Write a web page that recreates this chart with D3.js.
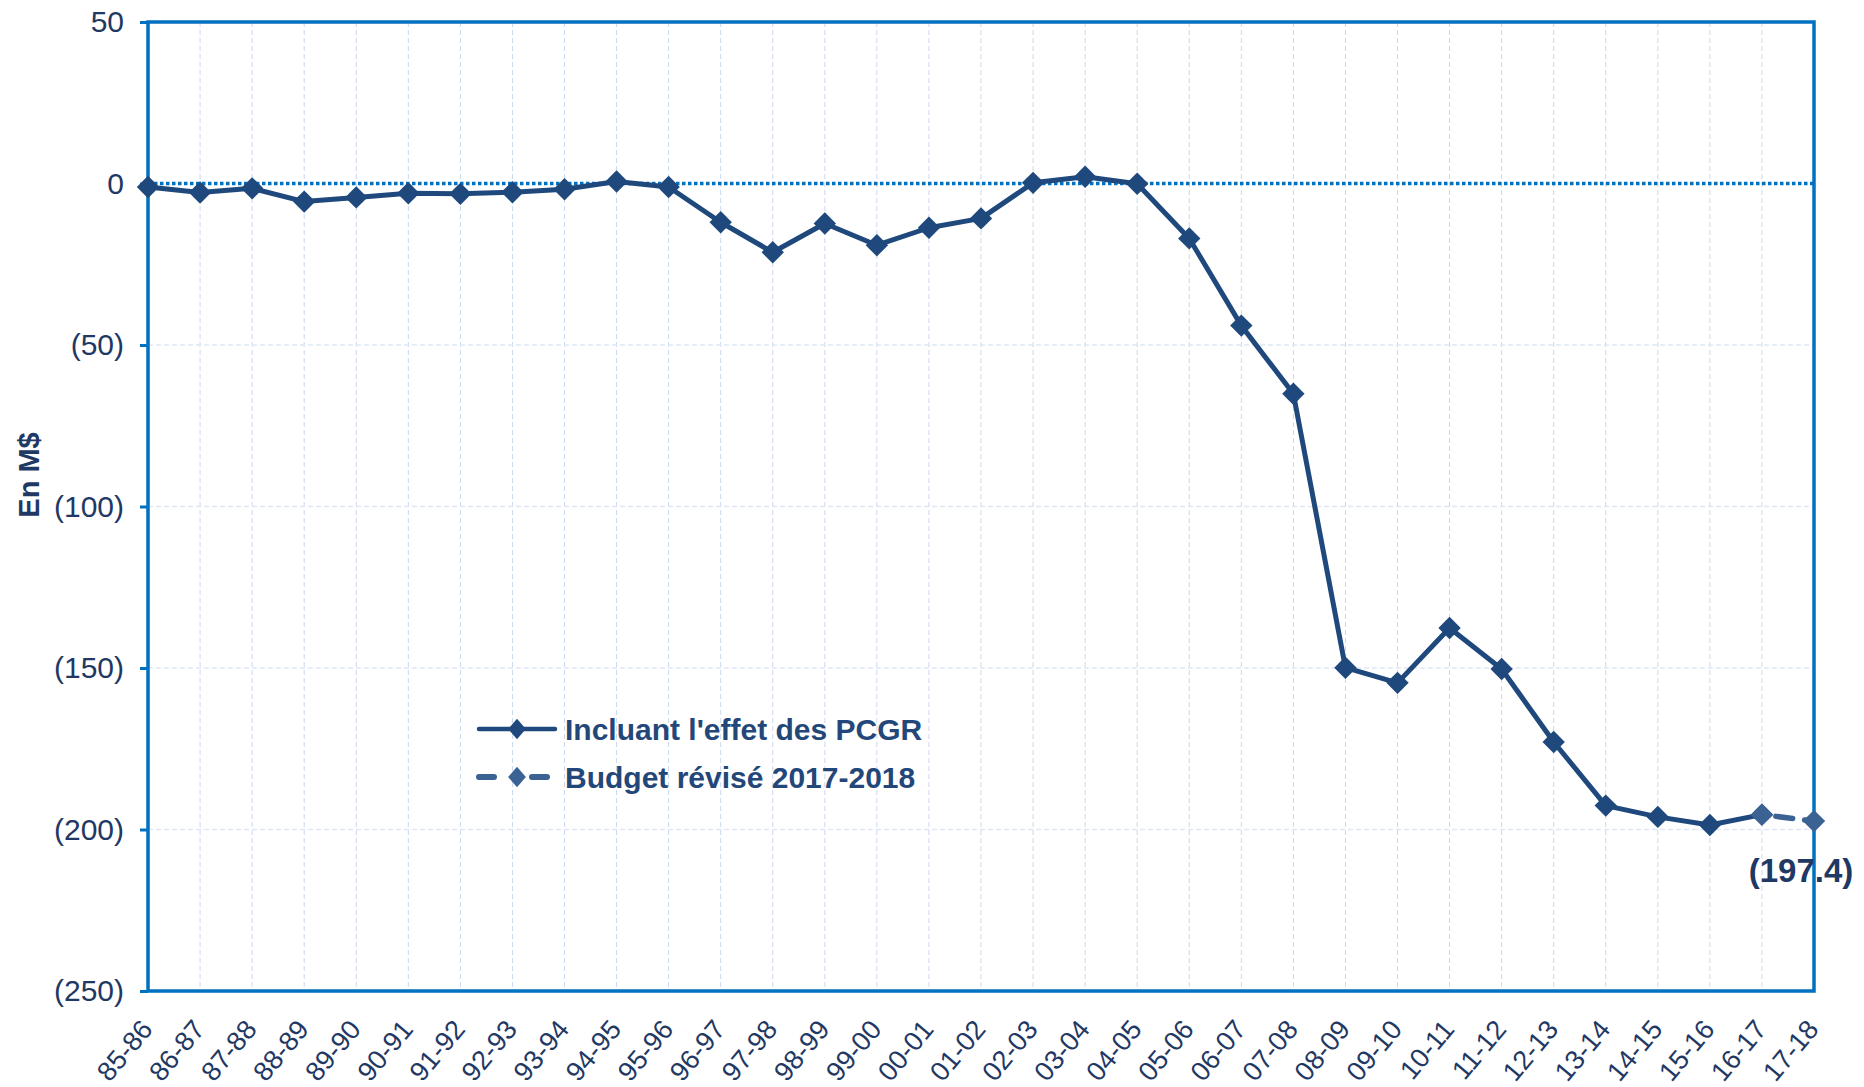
<!DOCTYPE html>
<html>
<head>
<meta charset="utf-8">
<script src="https://cdnjs.cloudflare.com/ajax/libs/d3/7.8.5/d3.min.js"></script>
<style>
	html, body { margin: 0; padding: 0; background: #fff; }
	svg { display: block; font-family: 'Liberation Sans', Arial, sans-serif; }
</style>
</head>
<body>
<svg id="chart" width="1864" height="1087"></svg>
<script>
// data
var categories = [
	'85-86', '86-87', '87-88', '88-89', '89-90', '90-91', '91-92', '92-93', '93-94', '94-95',
	'95-96', '96-97', '97-98', '98-99', '99-00', '00-01', '01-02', '02-03', '03-04', '04-05',
	'05-06', '06-07', '07-08', '08-09', '09-10', '10-11', '11-12', '12-13', '13-14', '14-15',
	'15-16', '16-17', '17-18'
];

// incluant l'effet des PCGR, 85-86 through 16-17
var pcgrValues = [
	-1.1, -2.8, -1.5, -5.6, -4.3, -3.0, -3.2, -2.7, -1.8, 0.6,
	-1.1, -12.0, -21.3, -12.4, -19.1, -13.7, -10.8, 0.2, 2.1, -0.1,
	-17.0, -44.0, -65.1, -149.9, -154.6, -137.6, -150.3, -172.9, -192.6, -196.1,
	-198.6, -195.4
];

// budget révisé 2017-2018
var budgetCategories = ['16-17', '17-18'];
var budgetValues = [-195.4, -197.4];

var yTicks = [50, 0, -50, -100, -150, -200, -250];

var seriesNames = ["Incluant l'effet des PCGR", 'Budget révisé 2017-2018'];
var endLabel = '(197.4)';

(function() {
	'use strict';

	var navy = '#1f497d';
	var navyLight = '#3a6394';
	var axisBlue = '#0070c0';
	var textColor = '#1f3864';

	var svg = d3.select('#chart');

	var x = d3.scalePoint()
		.domain(categories)
		.range([148, 1814])
		.padding(0);

	var y = d3.scaleLinear()
		.domain([-250, 50])
		.range([991, 22]);

	function fmt(v) {
		return v < 0 ? '(' + Math.abs(v) + ')' : String(v);
	}

	// gridlines
	svg.append('g')
		.selectAll('line')
		.data(categories.slice(1, -1))
		.enter().append('line')
		.attr('x1', function(d) { return x(d); })
		.attr('x2', function(d) { return x(d); })
		.attr('y1', y(50))
		.attr('y2', y(-250))
		.attr('stroke', '#c9d9ef')
		.attr('stroke-width', 1)
		.attr('stroke-dasharray', '5,3');

	svg.append('g')
		.selectAll('line')
		.data(yTicks.filter(function(d) { return d !== 0 && d !== 50 && d !== -250; }))
		.enter().append('line')
		.attr('x1', x.range()[0])
		.attr('x2', x.range()[1])
		.attr('y1', function(d) { return y(d); })
		.attr('y2', function(d) { return y(d); })
		.attr('stroke', '#dfe8f4')
		.attr('stroke-width', 1.5)
		.attr('stroke-dasharray', '5,3');

	// zero line
	svg.append('line')
		.attr('x1', x.range()[0])
		.attr('x2', x.range()[1])
		.attr('y1', y(0))
		.attr('y2', y(0))
		.attr('stroke', axisBlue)
		.attr('stroke-width', 3.5)
		.attr('stroke-dasharray', '3.5,2.5');

	// y axis
	var yAxis = d3.axisLeft(y)
		.tickValues(yTicks)
		.tickSize(8)
		.tickPadding(16)
		.tickFormat(fmt);

	var gy = svg.append('g')
		.attr('transform', 'translate(' + x.range()[0] + ',0)')
		.call(yAxis);
	gy.select('.domain').remove();
	gy.selectAll('.tick line').attr('stroke', axisBlue).attr('stroke-width', 3);
	gy.selectAll('.tick text')
		.attr('fill', textColor)
		.style('font-size', '30px');

	// x axis labels
	var gx = svg.append('g');
	gx.selectAll('text')
		.data(categories)
		.enter().append('text')
		.attr('transform', function(d) {
			return 'translate(' + (x(d) + 6) + ',1030) rotate(-50)';
		})
		.attr('text-anchor', 'end')
		.attr('fill', textColor)
		.style('font-size', '27px')
		.text(function(d) { return d; });

	// plot frame
	svg.append('rect')
		.attr('x', x.range()[0])
		.attr('y', y(50))
		.attr('width', x.range()[1] - x.range()[0])
		.attr('height', y(-250) - y(50))
		.attr('fill', 'none')
		.attr('stroke', axisBlue)
		.attr('stroke-width', 3.5);

	// y axis title
	svg.append('text')
		.attr('transform', 'translate(39,475) rotate(-90)')
		.attr('text-anchor', 'middle')
		.attr('fill', textColor)
		.style('font-size', '29px')
		.style('font-weight', 'bold')
		.text('En M$');

	var diamond = d3.symbol().type(d3.symbolDiamond2).size(320);
	var diamondSmall = d3.symbol().type(d3.symbolDiamond2).size(200);

	// series
	var pcgr = pcgrValues.map(function(v, i) { return { c: categories[i], v: v }; });
	var budget = budgetValues.map(function(v, i) { return { c: budgetCategories[i], v: v }; });

	var line = d3.line()
		.x(function(d) { return x(d.c); })
		.y(function(d) { return y(d.v); });

	svg.append('path')
		.datum(pcgr)
		.attr('d', line)
		.attr('fill', 'none')
		.attr('stroke', navy)
		.attr('stroke-width', 5)
		.attr('stroke-linejoin', 'round');

	svg.append('g')
		.selectAll('path')
		.data(pcgr)
		.enter().append('path')
		.attr('transform', function(d) { return 'translate(' + x(d.c) + ',' + y(d.v) + ')'; })
		.attr('d', diamond)
		.attr('fill', navy);

	svg.append('path')
		.datum(budget)
		.attr('d', line)
		.attr('fill', 'none')
		.attr('stroke', navyLight)
		.attr('stroke-width', 5.5)
		.attr('stroke-linecap', 'round')
		.attr('stroke-dasharray', '17,12')
		.attr('stroke-dashoffset', -14);

	svg.append('g')
		.selectAll('path')
		.data(budget)
		.enter().append('path')
		.attr('transform', function(d) { return 'translate(' + x(d.c) + ',' + y(d.v) + ')'; })
		.attr('d', diamond)
		.attr('fill', navyLight);

	// end label
	var last = budget[budget.length - 1];
	svg.append('text')
		.attr('x', x(last.c) - 13)
		.attr('y', y(last.v) + 61)
		.attr('text-anchor', 'middle')
		.attr('fill', textColor)
		.style('font-size', '33px')
		.style('font-weight', 'bold')
		.text(endLabel);

	// legend
	var legend = svg.append('g').attr('transform', 'translate(477,729)');
	var rows = legend.selectAll('g')
		.data(seriesNames)
		.enter().append('g')
		.attr('transform', function(d, i) { return 'translate(0,' + (i * 48) + ')'; });

	rows.append('line')
		.attr('x1', 2)
		.attr('x2', function(d, i) { return i === 0 ? 78 : 72; })
		.attr('y1', 0)
		.attr('y2', 0)
		.attr('stroke', function(d, i) { return i === 0 ? navy : navyLight; })
		.attr('stroke-width', function(d, i) { return i === 0 ? 4.5 : 6; })
		.attr('stroke-linecap', 'round')
		.attr('stroke-dasharray', function(d, i) { return i === 0 ? null : '15,38'; });

	rows.append('path')
		.attr('transform', 'translate(40,0) scale(1,1.15)')
		.attr('d', diamondSmall)
		.attr('fill', function(d, i) { return i === 0 ? navy : navyLight; });

	rows.append('text')
		.attr('x', 88)
		.attr('y', 11)
		.attr('fill', '#24477a')
		.style('font-size', '30px')
		.style('font-weight', 'bold')
		.text(function(d) { return d; });
})();
</script>
</body>
</html>
